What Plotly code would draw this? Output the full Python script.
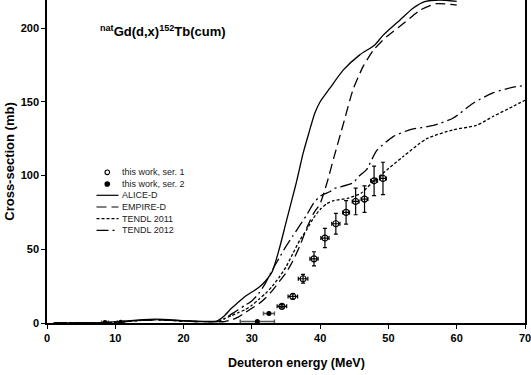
import plotly.graph_objects as go

# ---- data ----
alice_E = [1, 5, 8, 10, 12, 14, 16, 18, 20, 22, 24, 24.8, 26, 27, 28, 29, 30, 31, 32, 33, 34, 35, 36, 36.5, 37, 37.5,
           38.3, 39.2, 40, 41.4, 43.4, 45.8, 48, 49.2, 51.7, 53.6, 55.3, 57.5, 60]
alice_v = [0, 0, 0.2, 0.8, 1.5, 2.3, 2.6, 2.3, 1.6, 1.2, 1.1, 1.3, 5, 10, 14, 18, 21, 24, 28.5, 35, 50, 68, 86, 95, 105, 115,
           128, 142, 150, 159, 171.6, 181.8, 188.5, 195, 205.5, 213.4, 217.9, 219, 218]

empire_E = [1, 5, 8, 10, 12, 14, 16, 18, 20, 22, 24, 26, 27, 28, 29, 30, 31, 32, 33, 34, 35, 36, 37, 38, 39, 40, 41, 42,
            43.4, 44.8, 46.3, 47.8, 49.7, 52.2, 54.6, 57, 60]
empire_v = [0, 0, 0.1, 0.6, 1.3, 1.9, 2.2, 1.9, 1.3, 1.0, 0.8, 1.0, 2, 4, 7, 10, 13, 17, 22, 28, 34, 42, 52, 64, 74, 81, 95, 112,
            135, 158, 174, 185, 194, 203, 212, 216.5, 215.5]

tendl11_E = [1, 5, 8, 10, 12, 14, 16, 18, 20, 22, 24, 25, 26, 27, 28, 29, 30, 31, 32, 33, 34, 35, 36, 37, 38, 39, 40, 41,
             42, 44, 46, 48, 49.2, 52.2, 55.6, 59.5, 62.9, 65.3, 68.3, 70]
tendl11_v = [0, 0, 0.1, 0.5, 1.2, 1.8, 2.1, 1.8, 1.3, 1.0, 0.9, 1.0, 3, 5, 7, 9, 12, 16, 20, 25, 31, 38, 47, 56, 63, 71, 77, 81,
             83, 84.5, 88, 97, 101.6, 113, 125, 131, 134, 140, 147, 151]

tendl12_E = [1, 5, 8, 10, 12, 14, 16, 18, 20, 22, 24, 25, 26, 27, 28, 29, 30, 31, 32, 33, 34, 35, 36, 37, 38, 39, 40, 41.4,
             42, 44.8, 45.8, 46.8, 48.3, 50.7, 53.1, 56.6, 59.5, 62.4, 65.3, 68.3, 70]
tendl12_v = [0, 0, 0.1, 0.5, 1.2, 1.8, 2.1, 1.8, 1.3, 1.0, 0.9, 1.0, 3, 6, 9, 12, 15, 20, 27, 36, 44, 52, 59, 66, 73, 81, 86, 89,
             91, 95, 100, 104, 117, 126.4, 131, 134, 139, 149, 156, 160, 161]

ser1_E = [34.4, 36.0, 37.5, 39.1, 40.7, 42.3, 43.8, 45.2, 46.5, 47.9, 49.2]
ser1_v = [11.3, 18, 30, 43.5, 57.6, 67.3, 75, 82.4, 84, 96.4, 98]
ser1_dy = [1.1, 1.8, 3, 4.8, 6.5, 7, 8, 9, 9, 10, 11]
ser1_dE = [0.7, 0.7, 0.7, 0.6, 0.6, 0.6, 0.5, 0.5, 0.5, 0.5, 0.5]

ser2_E = [8.5, 10.8, 30.8, 32.5]
ser2_v = [0.3, 0.5, 1.0, 6.5]
ser2_dy = [0.1, 0.1, 0.2, 0.7]
ser2_dE = [0.5, 0.5, 2.5, 0.8]

x_ticks = [0, 10, 20, 30, 40, 50, 60, 70]
y_ticks = [0, 50, 100, 150, 200]

legend_names = ["this work, ser. 1", "this work, ser. 2", "ALICE-D", "EMPIRE-D", "TENDL 2011", "TENDL 2012"]
dashes = {"ALICE-D": "solid", "EMPIRE-D": "10px,5px", "TENDL 2011": "3px,2px", "TENDL 2012": "12px,4px,2px,4px"}

FONT = "Liberation Sans, Arial"
LW = 1.3
fig = go.Figure()
fig.add_trace(go.Scatter(
    x=ser1_E, y=ser1_v, mode="markers", name=legend_names[0],
    marker=dict(symbol="circle-open", size=6, color="black", line=dict(width=1.2, color="black")),
    error_y=dict(type="data", array=ser1_dy, color="black", thickness=1.2, width=2),
    error_x=dict(type="data", array=ser1_dE, color="black", thickness=1.2, width=2),
))
fig.add_trace(go.Scatter(
    x=ser2_E, y=ser2_v, mode="markers", name=legend_names[1],
    marker=dict(symbol="circle", size=5, color="black"),
    error_y=dict(type="data", array=ser2_dy, color="black", thickness=1.2, width=2),
    error_x=dict(type="data", array=ser2_dE, color="#555", thickness=1.5, width=2),
))
for nm, xs, ys in [("ALICE-D", alice_E, alice_v), ("EMPIRE-D", empire_E, empire_v),
                   ("TENDL 2011", tendl11_E, tendl11_v), ("TENDL 2012", tendl12_E, tendl12_v)]:
    fig.add_trace(go.Scatter(x=xs, y=ys, mode="lines", name=nm,
                             line=dict(color="black", width=LW, dash=dashes[nm], shape="spline", smoothing=0.6)))

# ---- manual legend (paper coords) ----
PW, PH, L0 = 478.0, 323.0, 47.0
def px(x):
    return (x - L0) / PW
def py(y):
    return 1 - y / PH

leg_y = [172.3, 184, 195.3, 207, 218.6, 230.3]
for i, nm in enumerate(legend_names):
    yc = py(leg_y[i])
    if i < 2:
        r_x, r_y = 2.3 / PW, 2.3 / PH
        cx = px(107.3)
        fig.add_shape(type="circle", xref="paper", yref="paper",
                      x0=cx - r_x, x1=cx + r_x, y0=yc - r_y, y1=yc + r_y,
                      line=dict(color="black", width=1.1),
                      fillcolor="white" if i == 0 else "black")
    else:
        fig.add_shape(type="line", xref="paper", yref="paper", x0=px(96.5), x1=px(118.5), y0=yc, y1=yc,
                      line=dict(color="black", width=1.2, dash=dashes[nm]))
    fig.add_annotation(text=nm, xref="paper", yref="paper", x=px(119.5), y=yc, xanchor="left", yanchor="middle",
                       showarrow=False, font=dict(family=FONT, size=9, color="#222"))

fig.add_annotation(
    text="<b><sup>nat</sup>Gd(d,x)<sup>152</sup>Tb(cum)</b>",
    xref="paper", yref="paper", x=px(98), y=py(31), xanchor="left", yanchor="middle",
    showarrow=False, font=dict(family=FONT, size=13, color="black"))

fig.add_annotation(text="<b>Deuteron energy (MeV)</b>", xref="paper", yref="paper",
                   x=px(296), y=py(363), xanchor="center", yanchor="middle", showarrow=False,
                   font=dict(family=FONT, size=12.5, color="black"))

fig.update_layout(
    width=531, height=375,
    margin=dict(l=47, r=6, t=0, b=52),
    paper_bgcolor="white", plot_bgcolor="white",
    font=dict(family=FONT, color="black"),
    showlegend=False,
)
fig.update_xaxes(
    range=[0, 70], tickvals=x_ticks, ticktext=[f"<b>{v}</b>" for v in x_ticks],
    showline=True, linecolor="black", linewidth=1.5, ticks="outside", ticklen=4, tickcolor="black",
    showgrid=False, zeroline=False, mirror=False, ticklabeloverflow="allow",
    tickfont=dict(size=11),
)
fig.update_yaxes(
    range=[0, 219], tickvals=y_ticks, ticktext=[f"<b>{v}</b>" for v in y_ticks],
    showline=True, linecolor="black", linewidth=1.5, ticks="outside", ticklen=4, tickcolor="black",
    showgrid=False, zeroline=False, mirror=True,
    tickfont=dict(size=11),
    title=dict(text="<b>Cross-section (mb)</b>", font=dict(size=13), standoff=3),
)

fig.write_html("out.html")
